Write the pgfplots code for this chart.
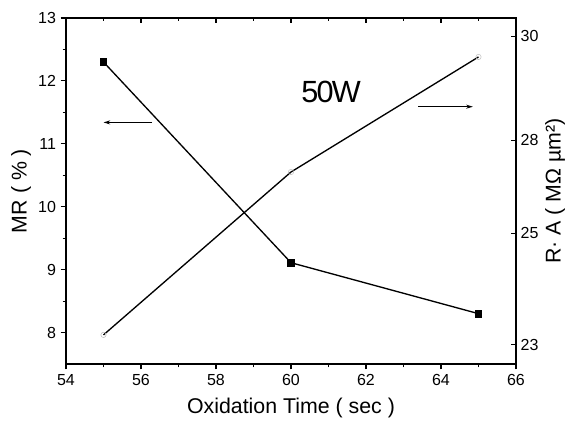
\documentclass[border=0pt]{standalone}
\usepackage{fontspec}
\setmainfont{Liberation Sans}
\usepackage{pgfplots}
\pgfplotsset{compat=1.18}
\usetikzlibrary{arrows.meta}
\begin{document}
\begin{tikzpicture}
\pgfplotsset{every axis/.append style={
  scale only axis, width=337.5pt, height=259.5pt,
  xmin=54, xmax=66, xtick={54,56,...,66}, minor x tick num=1,
  /pgf/number format/assume math mode=true,
  tick label style={font=\fontsize{12}{14}\selectfont},
  label style={font=\fontsize{16}{19}\selectfont},
  axis line style={line width=1.1pt},
  major tick length=4pt, minor tick length=2.5pt,
  every tick/.style={black, line width=0.8pt},
}}
% left axis: MR
\begin{axis}[
  ymin=7.5, ymax=13, ytick={8,...,13}, minor y tick num=1,
  tick align=outside, xtick pos=bottom, ytick pos=left,
  xlabel={Oxidation Time ( sec )}, ylabel={MR ( \% )},
  xlabel style={at={(axis description cs:0.5,-0.127)}, anchor=center},
  ylabel style={at={(axis description cs:-0.1,0.5)}, anchor=center},
]
\addplot[black, line width=1pt, mark=square*, mark size=2.4pt] coordinates {(55,12.3)(60,9.11)(65,8.3)};
\node[font=\fontsize{23}{27}\selectfont, inner sep=0pt] at (axis cs:61.07,11.83) {\addfontfeatures{LetterSpace=-6}50W};
\draw[-{Stealth[length=5pt,width=3pt]}, line width=0.9pt] (axis cs:56.3,11.34) -- (axis cs:55.0,11.34);
\draw[-{Stealth[length=5pt,width=3pt]}, line width=0.9pt] (axis cs:63.39,11.59) -- (axis cs:64.85,11.59);
\end{axis}
% right axis: R.A (tick spacing of the original is uneven)
\begin{axis}[
  axis x line*=top, axis y line*=right, xticklabels={},
  tick align=inside,
  ymin=22.66, ymax=30.35,
  y coord trafo/.code={\pgfmathparse{#1<25 ? 19+56*(#1-23) : (#1<28 ? 131+31*(#1-25) : 224+52*(#1-28))}},
  ytick={23,25,28,30}, yticklabels={23,25,28,30},
  ylabel={R· A ( MΩ µm²)},
  ylabel style={at={(axis description cs:1.087,0.5)}, anchor=center},
]
\addplot[black, line width=1pt, mark=o, mark size=2pt, mark options={draw=black!25, fill=white, line width=0.4pt}] coordinates {(55,23.18)(60,26.97)(65,29.6)};
\end{axis}
\pgfresetboundingbox
\path (-49.5pt,-44.25pt) rectangle (377.25pt,273pt);
\end{tikzpicture}
\end{document}
